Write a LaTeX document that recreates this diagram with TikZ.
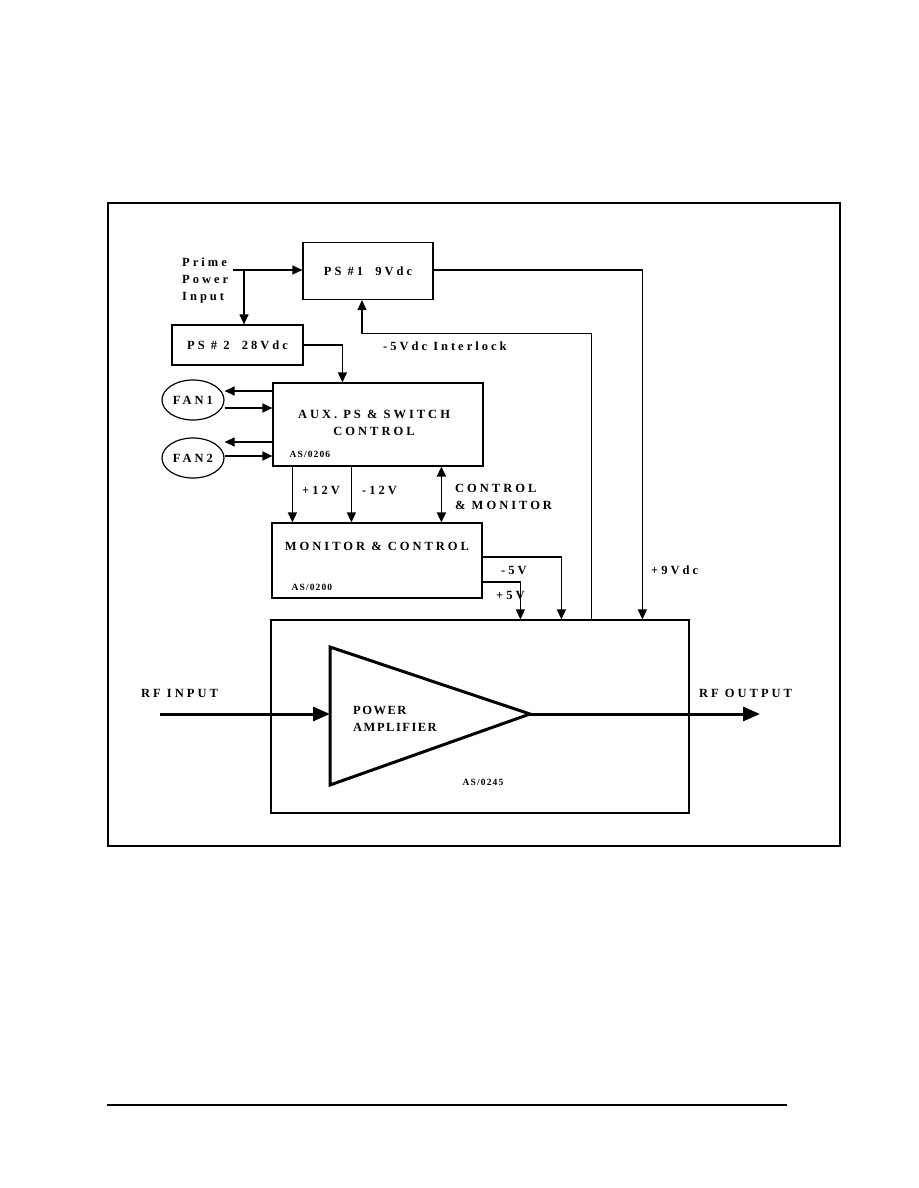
\documentclass[tikz,border=0pt]{standalone}
\usepackage{fontspec}
\setmainfont{Liberation Serif}
\newfontfamily\spaced[LetterSpace=24]{Liberation Serif}
\newfontfamily\tightly[LetterSpace=12]{Liberation Serif}
\usetikzlibrary{arrows.meta, positioning, calc, shapes.geometric}
\newcommand{\lblsize}{\fontsize{12.5}{17}\selectfont}

\begin{document}
\begin{tikzpicture}[x=1pt, y=-1pt,
  % Boxes carry no text of their own where the reference sets the title off centre;
  % the title and the part number are placed as separate nodes against the box.
  box/.style={draw, line width=1.2pt, inner sep=0pt, align=center,
              font=\spaced\bfseries\lblsize},
  fan/.style={draw, ellipse, line width=1.2pt, minimum width=62pt, minimum height=40pt,
              inner sep=0pt, font=\spaced\bfseries\lblsize},
  lbl/.style={inner sep=0pt, anchor=west, align=left, font=\spaced\bfseries\lblsize},
  tag/.style={inner sep=0pt, anchor=west, font=\tightly\bfseries\fontsize{9.5}{11}\selectfont},
  arr/.style={-{Triangle[length=10pt, width=9pt]}, line width=1.2pt},
  both/.style={{Triangle[length=10pt, width=9pt]}-{Triangle[length=10pt, width=9pt]},
               line width=1.8pt},
  rf/.style={-{Triangle[length=17pt, width=14pt]}, line width=3pt}
]
\useasboundingbox (0,0) rectangle (918,1188);

% outer frame and page rule
\draw[line width=1.2pt] (108,203) rectangle (840,846);
\coordinate (rulea) at (107,1105);
\coordinate (ruleb) at (787,1105);
\draw[line width=1.3pt] (rulea) -- (ruleb);

% supplies
\node[box, minimum width=130pt, minimum height=57pt] (ps1) at (368,271) {PS \#1\ \ 9Vdc};
\node[box, minimum width=131pt, minimum height=40pt] (ps2) at (237.5,345) {PS \# 2\ \ 28Vdc};
\node[lbl] (prime) at (182,280) {Prime\\Power\\Input};

\coordinate (pp) at (233,270);
\coordinate (tap) at (244,270);
\draw[arr] (pp) -- (ps1.west |- pp);
\draw[arr] (tap) -- (tap |- ps2.north);

% aux supply and fans
\node[box, minimum width=210pt, minimum height=83pt] (aux) at (378,424.5) {};
\node[lbl, anchor=center, align=center] (auxname) at ([shift={(-4pt,2pt)}]aux.center) {AUX. PS \& SWITCH\\CONTROL};
\node[tag] (auxtag) at ([shift={(17pt,12pt)}]aux.south west) {AS/0206};

\node[fan] (fan1) at (193,400) {FAN1};
\node[fan] (fan2) at (193,458) {FAN2};

\coordinate (f1out) at ([yshift=9pt]fan1.east);
\coordinate (f1in)  at ([yshift=-8pt]fan1.east);
\coordinate (f2out) at ([yshift=16pt]fan2.east);
\coordinate (f2in)  at ([yshift=2pt]fan2.east);
\draw[arr] (aux.west |- f1out) -- (f1out);
\draw[arr] (f1in) -- (aux.west |- f1in);
\draw[arr] (aux.west |- f2out) -- (f2out);
\draw[arr] (f2in) -- (aux.west |- f2in);

\draw[arr] (ps2.east) -| ([xshift=70pt]aux.north west);

% monitor and control
\node[box, minimum width=210pt, minimum height=75pt] (mon) at (377,560.5) {};
\node[lbl, anchor=center] (monname) at ([yshift=14pt]mon.center) {MONITOR \& CONTROL};
\node[tag] (montag) at ([shift={(20pt,11pt)}]mon.south west) {AS/0200};

\coordinate (p12) at ([xshift=20pt]aux.south west);
\coordinate (m12) at ([xshift=79pt]aux.south west);
\coordinate (cm)  at ([xshift=169pt]aux.south west);
\draw[arr] (p12) -- (p12 |- mon.north);
\draw[arr] (m12) -- (m12 |- mon.north);
\draw[both] (cm |- mon.north) -- (cm);
\node[lbl] at (302,490) {+12V};
\node[lbl] at (362,490) {-12V};
\node[lbl] at (455,497) {CONTROL\\\& MONITOR};

% amplifier
\node[box, minimum width=418pt, minimum height=193pt] (amp) at (480,716.5) {};
\node[tag, anchor=center] (amptag) at ([shift={(3pt,31pt)}]amp.south) {AS/0245};

\draw[arr] ([yshift=3.5pt]mon.east) -| ([xshift=291pt]amp.north west);
\draw[arr] ([yshift=-21.5pt]mon.east) -| ([xshift=250pt]amp.north west);
\node[lbl] at (501,570) {-5V};
\node[lbl] at (496,595) {+5V};

\draw[arr] (ps1.east |- pp) -| ([xshift=372pt]amp.north west);
\node[lbl] at (651,570) {+9Vdc};

\draw[arr] ([xshift=321pt]amp.north west) -- ++(0,-286) -| ([xshift=-6pt]ps1.south);
\node[lbl] at (383,346) {-5Vdc Interlock};

\coordinate (tritop) at (330,647);
\coordinate (tribot) at (330,785);
\coordinate (pain)   at (330,714);
\coordinate (paout)  at (530,714);
\draw[line width=3pt, line join=miter] (tritop) -- (paout) -- (tribot) -- cycle;
\node[lbl, font=\tightly\bfseries\lblsize, text width=120pt] (paname) at (353,719) {POWER\\AMPLIFIER};

\coordinate (rfin)  at (160,714);
\coordinate (rfout) at (760,714);
\draw[rf] (rfin) -- (pain);
\draw[rf] (paout) -- (rfout);
\node[lbl] at (141,693) {RF INPUT};
\node[lbl] at (699,693) {RF OUTPUT};

\end{tikzpicture}
\end{document}
